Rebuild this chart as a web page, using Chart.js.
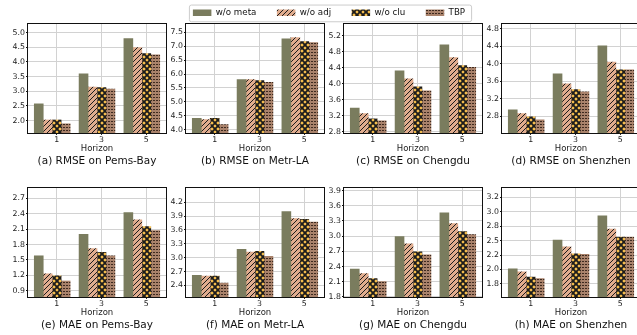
<!DOCTYPE html>
<html>
<head>
<meta charset="utf-8">
<script src="https://cdn.jsdelivr.net/npm/chart.js@4.4.1/dist/chart.umd.min.js"></script>
<style>
  html, body { margin: 0; padding: 0; background: #fff; }
  body { position: relative; width: 637px; height: 335px; overflow: hidden; }
  canvas { position: absolute; }
</style>
</head>
<body>
<canvas id="legend" width="658" height="110" style="left:0;top:-12px"></canvas>
<canvas id="p0" width="170" height="168" style="left:0;top:0"></canvas>
<canvas id="p1" width="170" height="168" style="left:158px;top:0"></canvas>
<canvas id="p2" width="170" height="168" style="left:316px;top:0"></canvas>
<canvas id="p3" width="170" height="168" style="left:474px;top:0"></canvas>
<canvas id="p4" width="170" height="168" style="left:0;top:164px"></canvas>
<canvas id="p5" width="170" height="168" style="left:158px;top:164px"></canvas>
<canvas id="p6" width="170" height="168" style="left:316px;top:164px"></canvas>
<canvas id="p7" width="170" height="168" style="left:474px;top:164px"></canvas>
<script>
const horizons = ['1', '3', '5']
const methods = ['w/o meta', 'w/o adj', 'w/o clu', 'TBP']

// each row: one method, values for horizon 1 / 3 / 5
const rmsePemsBay = [[2.57, 3.59, 4.79], [2.02, 3.14, 4.49], [2.02, 3.12, 4.28], [1.89, 3.07, 4.24]]
const rmseMetrLA = [[4.40, 5.80, 7.27], [4.36, 5.80, 7.31], [4.40, 5.76, 7.17], [4.18, 5.70, 7.13]]
const rmseChengdu = [[3.39, 4.32, 4.97], [3.25, 4.12, 4.65], [3.12, 3.92, 4.45], [3.07, 3.82, 4.41]]
const rmseShenzhen = [[2.95, 3.77, 4.41], [2.86, 3.54, 4.04], [2.79, 3.41, 3.86], [2.72, 3.36, 3.86]]
const maePemsBay = [[1.58, 2.00, 2.42], [1.23, 1.72, 2.28], [1.19, 1.65, 2.15], [1.09, 1.58, 2.07]]
const maeMetrLA = [[2.62, 3.18, 4.00], [2.60, 3.12, 3.85], [2.60, 3.14, 3.83], [2.45, 3.03, 3.77]]
const maeChengdu = [[2.35, 2.99, 3.46], [2.26, 2.85, 3.25], [2.16, 2.69, 3.09], [2.10, 2.63, 3.03]]
const maeShenzhen = [[2.01, 2.51, 2.93], [1.96, 2.39, 2.70], [1.87, 2.27, 2.56], [1.84, 2.26, 2.56]]

// y tick values per panel
const ticksA = [2.0, 2.5, 3.0, 3.5, 4.0, 4.5, 5.0]
const ticksB = [4.0, 4.5, 5.0, 5.5, 6.0, 6.5, 7.0, 7.5]
const ticksC = [2.8, 3.2, 3.6, 4.0, 4.4, 4.8, 5.2]
const ticksD = [2.8, 3.2, 3.6, 4.0, 4.4, 4.8]
const ticksE = [0.9, 1.2, 1.5, 1.8, 2.1, 2.4, 2.7]
const ticksF = [2.4, 2.7, 3.0, 3.3, 3.6, 3.9, 4.2]
const ticksG = [1.8, 2.1, 2.4, 2.7, 3.0, 3.3, 3.6, 3.9]
const ticksH = [1.75, 2.0, 2.25, 2.5, 2.75, 3.0, 3.25]
const labelsH = ['1.8', '2.0', '2.2', '2.5', '2.8', '3.0', '3.2']

Chart.defaults.font.family = "'DejaVu Sans', sans-serif"
Chart.defaults.color = '#222'

// hatch tiles, roughly like matplotlib hatches
function tile(bg, size, draw) {
  const c = document.createElement('canvas')
  c.width = size
  c.height = size
  const g = c.getContext('2d')
  g.fillStyle = bg
  g.fillRect(0, 0, size, size)
  g.strokeStyle = '#1c1c1c'
  g.fillStyle = '#3e2a1f'
  draw(g, size)
  return g.createPattern(c, 'repeat')
}

const fills = [
  '#7a7c5e',
  tile('#e0ac8e', 5, (g, s) => {
    g.lineWidth = 1
    g.beginPath()
    g.moveTo(0, s); g.lineTo(s, 0)
    g.moveTo(-1, 1); g.lineTo(1, -1)
    g.moveTo(s - 1, s + 1); g.lineTo(s + 1, s - 1)
    g.stroke()
  }),
  tile('#fcc34f', 6, (g, s) => {
    g.lineWidth = 1.9
    g.beginPath()
    g.moveTo(0, 0); g.lineTo(s, s)
    g.moveTo(0, s); g.lineTo(s, 0)
    g.stroke()
  }),
  tile('#a9826b', 3, g => {
    g.fillRect(0, 1, 2, 1)
  })
]

const barStep = 0.2

const panels = [
  { id: 'p0', title: '(a) RMSE on Pems-Bay', series: rmsePemsBay, ticks: ticksA, min: 1.58, max: 5.29 },
  { id: 'p1', title: '(b) RMSE on Metr-LA', series: rmseMetrLA, ticks: ticksB, min: 3.88, max: 7.80 },
  { id: 'p2', title: '(c) RMSE on Chengdu', series: rmseChengdu, ticks: ticksC, min: 2.77, max: 5.49 },
  { id: 'p3', title: '(d) RMSE on Shenzhen', series: rmseShenzhen, ticks: ticksD, min: 2.42, max: 4.91 },
  { id: 'p4', title: '(e) MAE on Pems-Bay', series: maePemsBay, ticks: ticksE, min: 0.78, max: 2.90 },
  { id: 'p5', title: '(f) MAE on Metr-LA', series: maeMetrLA, ticks: ticksF, min: 2.15, max: 4.51 },
  { id: 'p6', title: '(g) MAE on Chengdu', series: maeChengdu, ticks: ticksG, min: 1.80, max: 3.95 },
  { id: 'p7', title: '(h) MAE on Shenzhen', series: maeShenzhen, ticks: ticksH, labels: labelsH, min: 1.525, max: 3.41 }
]

// black box around the plot area (matplotlib spines)
const framePlugin = {
  id: 'frame',
  afterDatasetsDraw(chart) {
    const { ctx, chartArea: a } = chart
    ctx.save()
    ctx.strokeStyle = '#111'
    ctx.lineWidth = 1
    ctx.strokeRect(Math.round(a.left) - 0.5, Math.round(a.top) - 0.5,
      Math.round(a.right - a.left) + 1, Math.round(a.bottom - a.top) + 1)
    ctx.restore()
  }
}

function makeDatasets(series) {
  return methods.map((name, i) => ({
    label: name,
    data: series[i].map((v, g) => ({ x: g + (i - 2) * barStep, y: v })),
    backgroundColor: fills[i],
    borderWidth: 0,
    grouped: false,
    categoryPercentage: 1,
    barPercentage: 1
  }))
}

panels.forEach(p => {
  new Chart(document.getElementById(p.id), {
    type: 'bar',
    data: { datasets: makeDatasets(p.series) },
    plugins: [framePlugin],
    options: {
      responsive: false,
      animation: false,
      devicePixelRatio: 1,
      layout: { padding: { top: 24, left: 0, right: 4, bottom: 0 } },
      plugins: {
        legend: { display: false },
        tooltip: { enabled: false },
        title: {
          display: true,
          text: p.title,
          position: 'bottom',
          fullSize: false,
          color: '#111',
          font: { size: 10.5, weight: 'normal' },
          padding: { top: 2, bottom: 0 }
        }
      },
      scales: {
        x: {
          type: 'linear',
          min: -0.64,
          max: 2.44,
          offset: false,
          afterBuildTicks: s => { s.ticks = horizons.map((h, i) => ({ value: i })) },
          afterFit: s => { s.height = 20.5 },
          ticks: {
            callback: (v, i) => horizons[i],
            font: { size: 7.8 },
            padding: 0.5,
            maxRotation: 0
          },
          grid: { offset: false, color: '#d2d2d2', tickColor: '#111', tickLength: 2 },
          border: { display: false },
          title: { display: true, text: 'Horizon', font: { size: 8.5 }, padding: 0, color: '#222' }
        },
        y: {
          min: p.min,
          max: p.max,
          beginAtZero: false,
          afterBuildTicks: s => { s.ticks = p.ticks.map(v => ({ value: v })) },
          afterFit: s => { s.width = 28 },
          ticks: {
            callback: (v, i) => p.labels ? p.labels[i] : p.ticks[i].toFixed(1),
            font: { size: 7.8 },
            padding: 1
          },
          grid: { color: '#d2d2d2', tickColor: '#111', tickLength: 2 },
          border: { display: false }
        }
      }
    }
  })
})

// shared legend: its own chart that only shows the legend
const legendFrame = {
  id: 'legendFrame',
  beforeDraw(chart) {
    const hb = chart.legend.legendHitBoxes
    if (!hb || !hb.length) return
    const last = hb[hb.length - 1]
    const cy = hb[0].top + hb[0].height / 2
    const x0 = hb[0].left - 4
    const x1 = last.left + last.width + 6
    const { ctx } = chart
    ctx.save()
    ctx.beginPath()
    ctx.roundRect(x0 + 0.5, cy - 8.3 + 0.5, x1 - x0, 16.7, 2)
    ctx.fillStyle = '#fff'
    ctx.fill()
    ctx.strokeStyle = '#cccccc'
    ctx.lineWidth = 1
    ctx.stroke()
    ctx.restore()
  }
}

new Chart(document.getElementById('legend'), {
  type: 'bar',
  data: {
    labels: horizons,
    datasets: methods.map((name, i) => ({ label: name, data: [], backgroundColor: fills[i], borderWidth: 0 }))
  },
  plugins: [legendFrame],
  options: {
    responsive: false,
    animation: false,
    devicePixelRatio: 1,
    layout: { padding: 0 },
    scales: { x: { display: false }, y: { display: false } },
    plugins: {
      tooltip: { enabled: false },
      legend: {
        position: 'top',
        labels: {
          boxWidth: 18.5,
          boxHeight: 6.5,
          padding: 20.5,
          color: '#111',
          font: { size: 8.7 }
        }
      }
    }
  }
})
</script>
</body>
</html>
